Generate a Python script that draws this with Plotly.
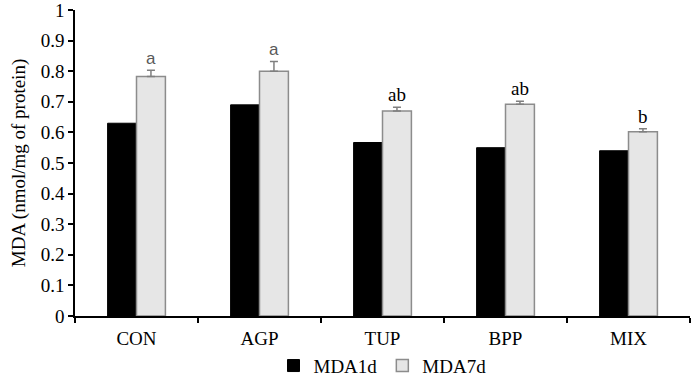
import plotly.graph_objects as go

categories = ["CON", "AGP", "TUP", "BPP", "MIX"]
mda1d = [0.63, 0.69, 0.567, 0.55, 0.54]
mda7d = [0.783, 0.80, 0.67, 0.692, 0.602]
mda7d_err = [0.02, 0.032, 0.012, 0.01, 0.01]
letters = ["a", "a", "ab", "ab", "b"]
y_ticks = [0, 0.1, 0.2, 0.3, 0.4, 0.5, 0.6, 0.7, 0.8, 0.9, 1]
y_ticktext = ["0", "0.1", "0.2", "0.3", "0.4", "0.5", "0.6", "0.7", "0.8", "0.9", "1"]

FONT = "Liberation Serif, Times New Roman, serif"
FS = 19

fig = go.Figure()
fig.add_trace(go.Bar(
    x=categories, y=mda1d, name="MDA1d",
    marker=dict(color="#000000", line=dict(color="#000000", width=1)),
))
fig.add_trace(go.Bar(
    x=categories, y=mda7d, name="MDA7d",
    marker=dict(color="#e6e6e6", line=dict(color="#8c8c8c", width=1.5)),
    error_y=dict(type="data", array=mda7d_err, symmetric=False, arrayminus=[0]*5,
                 color="#7f7f7f", thickness=1.5, width=4),
))

for i, (c, v, e, t) in enumerate(zip(categories, mda7d, mda7d_err, letters)):
    sans = (t == "a")
    fig.add_annotation(
        x=c, y=v + e, text=t, showarrow=False, yanchor="bottom", yshift=0,
        xshift=14.5,
        font=dict(family="Liberation Sans, Arial, sans-serif" if sans else FONT,
                  size=17 if sans else FS, color="#595959" if sans else "#000000"),
    )

fig.update_layout(
    width=692, height=377,
    margin=dict(l=75, r=2, t=10, b=61, autoexpand=False),
    paper_bgcolor="white", plot_bgcolor="white",
    font=dict(family=FONT, size=FS, color="#000000"),
    barmode="group", bargap=0.53, bargroupgap=0,
    showlegend=True,
    legend=dict(orientation="h", x=0.5, xanchor="center", xref="paper",
                y=0.03, yanchor="middle", yref="container",
                font=dict(family=FONT, size=FS), itemwidth=30, tracegroupgap=0,
                traceorder="normal"),
    xaxis=dict(showline=True, linecolor="#000000", linewidth=1.5, automargin=False,
               ticks="outside", tickson="boundaries", ticklen=5, tickcolor="#000000",
               tickwidth=1.5, showgrid=False, ticklabelstandoff=4,
               tickfont=dict(family=FONT, size=FS)),
    yaxis=dict(range=[0, 1], tickvals=y_ticks, ticktext=y_ticktext,
               showline=True, linecolor="#000000", linewidth=1.5,
               automargin=False, ticklabeloverflow="allow",
               ticks="outside", ticklen=5, tickcolor="#000000", tickwidth=1.5,
               showgrid=False, zeroline=False, tickfont=dict(family=FONT, size=FS),
               title=dict(text="MDA (nmol/mg of protein)", font=dict(family=FONT, size=FS),
                          standoff=10)),
)

fig.write_html("out.html", config={"displayModeBar": False},
               post_script="document.body.style.margin='0';")
